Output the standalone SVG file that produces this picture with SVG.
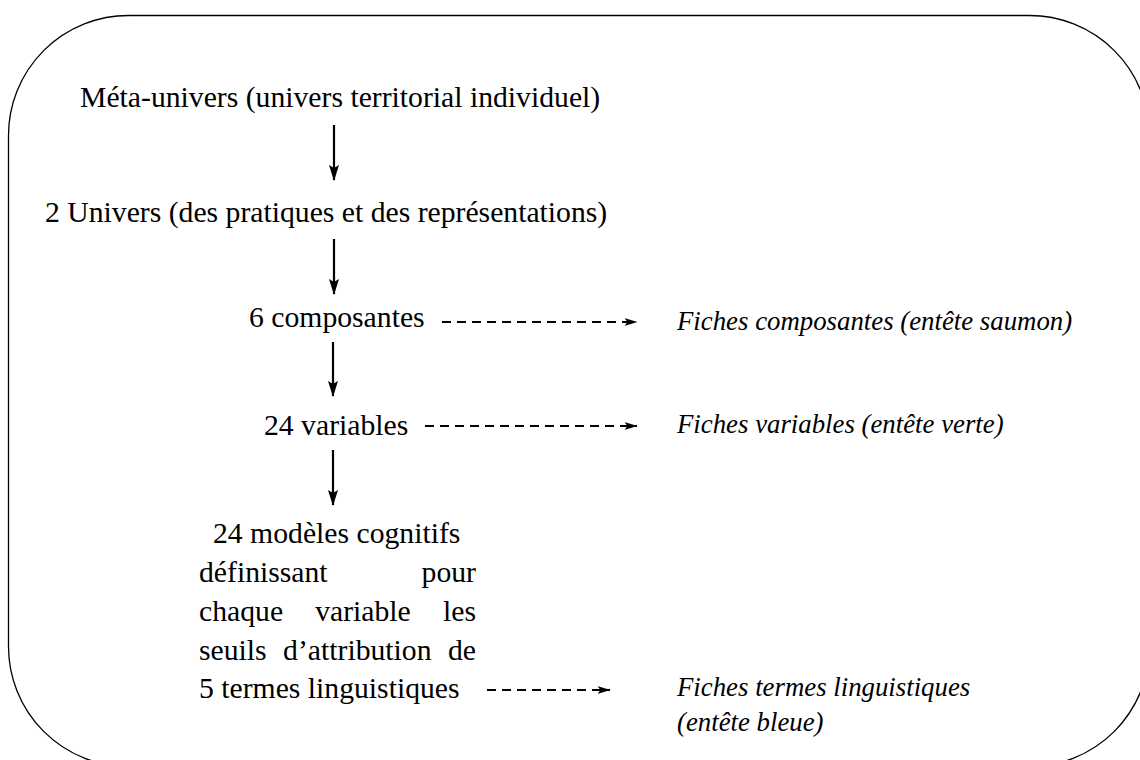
<svg xmlns="http://www.w3.org/2000/svg" width="1140" height="760" viewBox="0 0 1140 760" font-family="Liberation Serif, Times New Roman, serif">
<defs>
<style>
.t{font-family:"Liberation Serif","Times New Roman",serif;font-size:29.7px;fill:#000}
.i{font-family:"Liberation Serif","Times New Roman",serif;font-size:26.8px;font-style:italic;fill:#000}
.solid{stroke:#000;stroke-width:2.2;fill:none}
.dash{stroke:#000;stroke-width:2;fill:none;stroke-dasharray:9 6}
</style>
<marker id="ah" viewBox="0 0 10 16" refX="5" refY="15" markerWidth="10" markerHeight="16" markerUnits="userSpaceOnUse" orient="0">
<path d="M0,0 L5,3 L10,0 L5,16 Z" fill="#000"/>
</marker>
<marker id="ahs" viewBox="0 0 13 9" refX="12.5" refY="4.5" markerWidth="13" markerHeight="9" markerUnits="userSpaceOnUse" orient="auto">
<path d="M0,0.5 L13,4.5 L0,8.5 L3,4.5 Z" fill="#000"/>
</marker>
</defs>
<rect id="frame" x="8.5" y="15.5" width="1141" height="751" rx="120" ry="120" fill="none" stroke="#000" stroke-width="1.3"/>
<g id="connectors">
<line class="solid" x1="334" y1="125" x2="334" y2="180" marker-end="url(#ah)"/>
<line class="solid" x1="334" y1="239" x2="334" y2="294" marker-end="url(#ah)"/>
<line class="solid" x1="333" y1="342" x2="333" y2="396" marker-end="url(#ah)"/>
<line class="solid" x1="333" y1="450" x2="333" y2="505" marker-end="url(#ah)"/>
<line class="dash" x1="442" y1="322" x2="637" y2="322" marker-end="url(#ahs)"/>
<line class="dash" x1="425" y1="426" x2="637" y2="426" marker-end="url(#ahs)"/>
<line class="dash" x1="487" y1="690" x2="610" y2="690" marker-end="url(#ahs)"/>
</g>
<g id="meta"><text class="t" x="80" y="107">Méta-univers (univers territorial individuel)</text></g>
<g id="univers"><text class="t" x="45" y="222">2 Univers (des pratiques et des représentations)</text></g>
<g id="composantes"><text class="t" x="249" y="327">6 composantes</text></g>
<g id="variables"><text class="t" x="264" y="435">24 variables</text></g>
<g id="modeles">
<text class="t" x="213" y="543">24 modèles cognitifs</text>
<text class="t" x="199" y="582">définissant</text>
<text class="t" x="476" y="582" text-anchor="end">pour</text>
<text class="t" x="199" y="621">chaque</text>
<text class="t" x="315.2" y="621">variable</text>
<text class="t" x="476" y="621" text-anchor="end">les</text>
<text class="t" x="199" y="660">seuils</text>
<text class="t" x="283.1" y="660">d’attribution</text>
<text class="t" x="476" y="660" text-anchor="end">de</text>
<text class="t" x="199" y="698">5 termes linguistiques</text>
</g>
<g id="fiches-composantes"><text class="i" x="677" y="330">Fiches composantes (entête saumon)</text></g>
<g id="fiches-variables"><text class="i" x="677" y="433">Fiches variables (entête verte)</text></g>
<g id="fiches-termes">
<text class="i" x="677" y="696">Fiches termes linguistiques</text>
<text class="i" x="677" y="731">(entête bleue)</text>
</g>
</svg>
